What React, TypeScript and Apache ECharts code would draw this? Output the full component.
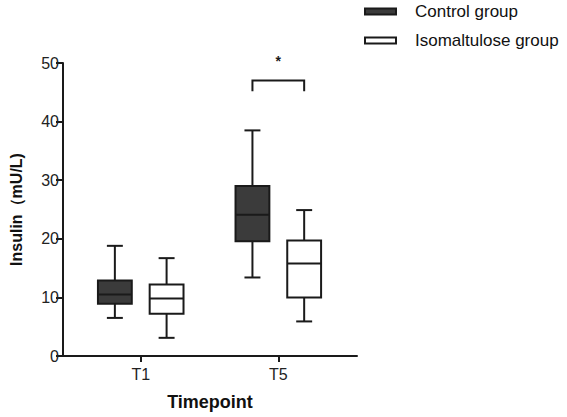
import React, { useEffect, useRef } from "react";
import * as echarts from "echarts";

// Timepoints on the x axis (placed at positions 1, 2, ...)
const categories = ["T1", "T5"];
// Box statistics per timepoint: [min, Q1, median, Q3, max]
const controlGroup = [
  [6.5, 8.9, 10.5, 12.9, 18.8],
  [13.4, 19.6, 24.1, 29.0, 38.5],
];
const isomaltuloseGroup = [
  [3.1, 7.2, 9.8, 12.2, 16.7],
  [5.9, 10.0, 15.8, 19.7, 24.9],
];
// Significance bracket: timepoint index, bracket top, bracket leg end, mark
const significance = [{ index: 1, top: 47, leg: 45.2, mark: "*" }];
const yTicks = [0, 10, 20, 30, 40, 50];

const INK = "#1a1a1a";
const FONT = "'Liberation Sans', Arial, sans-serif";
const BOX_OFFSET = 0.188; // axis units from the timepoint centre
const BOX_HALF = 0.123;
const CAP_HALF = 0.058;

function boxRenderer(offset: number, fill: string) {
  return (params: any, api: any) => {
    const pos = api.value(0) + offset;
    const [xc, yMin] = api.coord([pos, api.value(1)]);
    const yQ1 = api.coord([pos, api.value(2)])[1];
    const yMed = api.coord([pos, api.value(3)])[1];
    const yQ3 = api.coord([pos, api.value(4)])[1];
    const yMax = api.coord([pos, api.value(5)])[1];
    const half = api.size([BOX_HALF, 0])[0];
    const cap = api.size([CAP_HALF, 0])[0];
    const line = { stroke: INK, lineWidth: 2 };
    return {
      type: "group",
      children: [
        { type: "line", shape: { x1: xc, y1: yMax, x2: xc, y2: yQ3 }, style: line },
        { type: "line", shape: { x1: xc, y1: yQ1, x2: xc, y2: yMin }, style: line },
        { type: "line", shape: { x1: xc - cap, y1: yMax, x2: xc + cap, y2: yMax }, style: line },
        { type: "line", shape: { x1: xc - cap, y1: yMin, x2: xc + cap, y2: yMin }, style: line },
        {
          type: "rect",
          shape: { x: xc - half, y: yQ3, width: half * 2, height: yQ1 - yQ3 },
          style: { fill, stroke: INK, lineWidth: 2 },
        },
        { type: "line", shape: { x1: xc - half, y1: yMed, x2: xc + half, y2: yMed }, style: line },
      ],
    };
  };
}

export default function App() {
  const ref = useRef<HTMLDivElement>(null);

  useEffect(() => {
    if (!ref.current) return;
    const chart = echarts.init(ref.current, undefined, { renderer: "svg" });

    const toRows = (stats: number[][]) => stats.map((s, i) => [i + 1, ...s]);

    chart.setOption({
      animation: false,
      backgroundColor: "#ffffff",
      textStyle: { fontFamily: FONT },
      legend: {
        orient: "vertical",
        left: 364,
        top: 3,
        padding: 0,
        itemWidth: 31,
        itemHeight: 6,
        itemGap: 12,
        textStyle: { fontSize: 17, color: "#111", fontFamily: FONT, padding: [0, 0, 0, 14] },
        data: [
          {
            name: "Control group",
            icon: "rect",
            itemStyle: { color: "#3b3b3b", borderColor: INK, borderWidth: 2 },
          },
          {
            name: "Isomaltulose group",
            icon: "rect",
            itemStyle: { color: "#ffffff", borderColor: INK, borderWidth: 2 },
          },
        ],
      },
      grid: { left: 62, right: 210, top: 63, bottom: 61 },
      xAxis: {
        type: "value",
        min: 0.435,
        max: 2.572,
        name: "Timepoint",
        nameLocation: "middle",
        nameGap: 37,
        nameTextStyle: { fontSize: 18, fontWeight: "bold", color: "#111", fontFamily: FONT },
        splitLine: { show: false },
        axisLine: { show: true, lineStyle: { color: INK, width: 2 } },
        axisTick: {
          show: true,
          customValues: categories.map((_, i) => i + 1),
          length: 6,
          lineStyle: { color: INK, width: 2 },
        },
        axisLabel: {
          customValues: categories.map((_, i) => i + 1),
          formatter: (v: number) => categories[Math.round(v) - 1] ?? "",
          fontSize: 16,
          color: "#222",
          margin: 10,
          fontFamily: FONT,
        },
      },
      yAxis: {
        type: "value",
        min: yTicks[0],
        max: yTicks[yTicks.length - 1],
        interval: yTicks[1] - yTicks[0],
        name: "Insulin（mU/L)",
        nameLocation: "middle",
        nameGap: 39,
        nameTextStyle: { fontSize: 16, fontWeight: "bold", color: "#111", fontFamily: FONT },
        splitLine: { show: false },
        axisLine: { show: true, lineStyle: { color: INK, width: 2 } },
        axisTick: { show: true, length: 7, lineStyle: { color: INK, width: 2 } },
        axisLabel: { fontSize: 16, color: "#222", margin: 4, fontFamily: FONT },
      },
      series: [
        {
          name: "Control group",
          type: "custom",
          itemStyle: { color: "#3b3b3b" },
          encode: { x: 0, y: [1, 2, 3, 4, 5] },
          data: toRows(controlGroup),
          renderItem: boxRenderer(-BOX_OFFSET, "#3b3b3b"),
        },
        {
          name: "Isomaltulose group",
          type: "custom",
          itemStyle: { color: "#ffffff" },
          encode: { x: 0, y: [1, 2, 3, 4, 5] },
          data: toRows(isomaltuloseGroup),
          renderItem: boxRenderer(BOX_OFFSET, "#ffffff"),
        },
        {
          type: "custom",
          clip: false,
          silent: true,
          encode: { x: 0, y: [1, 2] },
          data: significance.map((s) => [s.index + 1, s.top, s.leg]),
          renderItem: (params: any, api: any) => {
            const pos = api.value(0);
            const [xl, yTop] = api.coord([pos - BOX_OFFSET, api.value(1)]);
            const [xr, yLeg] = api.coord([pos + BOX_OFFSET, api.value(2)]);
            const s = significance[params.dataIndex];
            return {
              type: "group",
              children: [
                {
                  type: "polyline",
                  shape: { points: [[xl, yLeg], [xl, yTop], [xr, yTop], [xr, yLeg]] },
                  style: { stroke: INK, lineWidth: 2, fill: "none" },
                },
                {
                  type: "text",
                  x: (xl + xr) / 2,
                  y: yTop - 20,
                  style: {
                    text: s.mark,
                    fontSize: 14,
                    fontWeight: "bold",
                    fontFamily: FONT,
                    fill: INK,
                    align: "center",
                    verticalAlign: "middle",
                  },
                },
              ],
            };
          },
        },
      ],
    });

    return () => chart.dispose();
  }, []);

  return (
    <div
      ref={ref}
      style={{ position: "fixed", left: 0, top: 0, width: 567, height: 417, background: "#fff" }}
    />
  );
}
